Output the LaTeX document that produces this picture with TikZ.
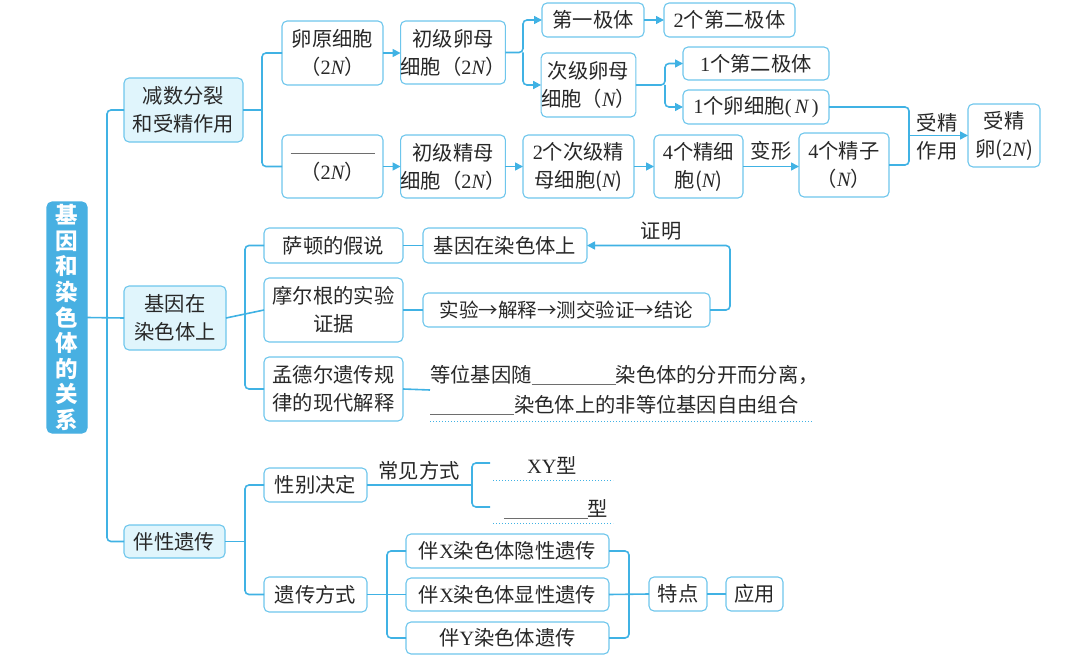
\documentclass[tikz,border=0pt]{standalone}
\usepackage{fontspec}
\setmainfont{Noto Sans CJK SC}
\newfontfamily\tm{Liberation Serif}
\usetikzlibrary{arrows.meta}
\definecolor{lb}{RGB}{64,178,228}
\definecolor{bb}{RGB}{110,198,236}
\definecolor{mf}{RGB}{72,176,226}
\definecolor{lf}{RGB}{224,245,252}
\definecolor{tc}{RGB}{40,40,40}
\definecolor{gl}{RGB}{110,110,110}
\newcommand\nN{{\tm\itshape N}}
\newcommand\tn[1]{{\tm #1}}
\newcommand\blank[1]{{\color{gl}\rule[-2pt]{#1}{0.8pt}}}
\tikzset{
  box/.style={draw=bb, line width=1.1pt, rounded corners=5pt, fill=white, align=center,
    inner sep=0pt, outer sep=0pt, text=tc, font=\fontsize{20.3}{28}\selectfont},
  lvl/.style={box, fill=lf},
  mainbox/.style={box, draw=mf, fill=mf, text=white, font=\fontsize{22.5}{25.6}\selectfont\bfseries},
  conn/.style={draw=lb, line width=1.6pt, rounded corners=4pt},
  arr/.style={conn, -{Triangle[length=8pt,width=8pt]}},
  lbl/.style={text=tc, font=\fontsize{20.3}{28}\selectfont, inner sep=0pt, align=left},
  dline/.style={draw=lb, line width=1pt, dotted},
}
\newcommand\bx[7][box]{\node[#1, minimum width={#5-#3}, minimum height={#6-#4}] (#2) at ({(#3+#5)/2},{(#4+#6)/2}) {#7};}
\begin{document}
\begin{tikzpicture}[x=1pt,y=-1pt]
\useasboundingbox (0,0) rectangle (1085,661);
% main
\bx[mainbox]{M}{47}{202}{87}{433}{基\\因\\和\\染\\色\\体\\的\\关\\系}
% level 2
\bx[lvl]{L1}{124}{78}{243}{142}{减数分裂\\和受精作用}
\bx[lvl]{L2}{124}{286}{226}{350}{基因在\\染色体上}
\bx[lvl]{L3}{124}{525}{225}{558}{伴性遗传}
% section 1
\bx{A1}{282}{21}{383}{85}{卵原细胞\\（\tn{2}\nN）}
\bx{A2}{282}{135}{383}{198}{\blank{84pt}\\（\tn{2}\nN）}
\bx{B1}{403}{21}{503}{84}{初级卵母\\细胞（\tn{2}\nN）}
\bx{B2}{403}{135}{503}{198}{初级精母\\细胞（\tn{2}\nN）}
\bx{C1}{542}{3}{644}{37}{第一极体}
\bx{C2}{542}{53}{635}{117}{次级卵母\\细胞（\nN）}
\bx{D1}{664}{3}{795}{37}{\tn{2}个第二极体}
\bx{D2}{683}{47}{829}{80}{\tn{1}个第二极体}
\bx{D3}{683}{90}{829}{124}{\tn{1}个卵细胞\tn{(\,}\nN\tn{\,)}}
\bx{E1}{523}{135}{634}{198}{\tn{2}个次级精\\母细胞(\nN)}
\bx{E2}{654}{135}{743}{198}{\tn{4}个精细\\胞(\nN)}
\bx{E3}{799}{133}{889}{197}{\tn{4}个精子\\（\nN）}
\bx{F}{968}{104}{1040}{167}{受精\\卵(\tn{2}\nN)}
% section 2
\bx{G1}{264}{228}{403}{263}{萨顿的假说}
\bx{G2}{264}{278}{403}{342}{摩尔根的实验\\证据}
\bx{G3}{264}{357}{403}{421}{孟德尔遗传规\\律的现代解释}
\bx{H1}{423}{228}{587}{263}{基因在染色体上}
\bx[box, font=\fontsize{19.5}{28}\selectfont]{H2}{423}{293}{710}{327}{实验→解释→测交验证→结论}
\node[lbl, anchor=west, font=\fontsize{20.3}{30}\selectfont] (T) at (430,390)
  {等位基因随\blank{84pt}染色体的分开而分离，\\\blank{84pt}染色体上的非等位基因自由组合};
% section 3
\bx{J1}{264}{468}{367}{502}{性别决定}
\bx{J2}{264}{577}{367}{612}{遗传方式}
\bx{K1}{406}{534}{609}{568}{伴\tn{X}染色体隐性遗传}
\bx{K2}{406}{578}{609}{611}{伴\tn{X}染色体显性遗传}
\bx{K3}{406}{622}{609}{654}{伴\tn{Y}染色体遗传}
\bx{P}{649}{577}{707}{611}{特点}
\bx{Q}{726}{577}{783}{611}{应用}
% junction coordinates
\coordinate (j0) at (107,0);
\coordinate (j1) at (262,0);
\coordinate (j2) at (523,0);
\coordinate (j3) at (665,0);
\coordinate (j4) at (909,0);
\coordinate (j5) at (245,0);
\coordinate (j6) at (730,0);
\coordinate (j7) at (472,0);
\coordinate (j8) at (387,0);
\coordinate (j9) at (629,0);
% trunk
\draw[conn] (L1.west) -| (j0 |- M.east) |- (L3.west);
\draw[conn] (M.east) -- (L2.west);
% section 1
\draw[conn] (A1.west) -| (j1 |- L1.east) |- (A2.west);
\draw[conn] (L1.east) -- (j1 |- L1.east);
\draw[arr] (A1.east) -- (B1.west |- A1.east);
\draw[arr] (A2.east) -- (B2.west |- A2.east);
\draw[arr] (B1.east) -- (j2 |- B1.east) |- (C1.west);
\draw[arr] (j2 |- B1.east) |- (C2.west);
\draw[arr] (C1.east) -- (D1.west);
\draw[arr] (C2.east) -- (j3 |- C2.east) |- (D2.west);
\draw[arr] (j3 |- C2.east) |- (D3.west);
\draw[arr] (B2.east) -- (E1.west |- B2.east);
\draw[arr] (E1.east) -- (E2.west |- E1.east);
\draw[arr] (E2.east) -- (E3.west |- E2.east) node[lbl, pos=0.5, above=5pt] (bx) {变形};
\draw[conn] (D3.east) -| (j4 |- E3.east) -- (E3.east);
\draw[arr] (j4 |- F.west) -- (F.west);
\node[lbl, align=center] (sj) at (937,137) {受精\\作用};
% section 2
\draw[conn] (G1.west) -| (j5 |- L2.east) |- (G3.west);
\draw[conn] (L2.east) -- (G2.west);
\draw[conn] (G1.east) -- (H1.west);
\draw[conn] (G2.east) -- (H2.west);
\draw[conn] (G3.east) -- (T.west);
\draw[arr] (H2.east) -| (j6 |- H1.east) -- (H1.east);
\node[lbl] (zm) at (661,231) {证明};
\draw[dline] (430,421) -- (812,421);
% section 3
\draw[conn] (J1.west) -| (j5 |- L3.east) |- (J2.west);
\draw[conn] (L3.east) -- (j5 |- L3.east);
\draw[conn] (J1.east) -- (j7 |- J1.east);
\node[lbl] (cj) at (419,471) {常见方式};
\draw[conn] (490,463) -- (472,463) -- (472,507) -- (490,507);
\node[lbl] (xy) at (552,465) {\tn{XY}型};
\draw[dline] (493,480) -- (613,480);
\node[lbl] (bt) at (556,509) {\blank{84pt}型};
\draw[dline] (493,523) -- (613,523);
\draw[conn] (K1.west) -| (j8 |- J2.east) |- (K3.west);
\draw[conn] (J2.east) -- (K2.west);
\draw[conn] (K1.east) -| (j9 |- P.west) |- (K3.east);
\draw[conn] (K2.east) -- (P.west);
\draw[conn] (P.east) -- (Q.west);
\end{tikzpicture}
\end{document}
